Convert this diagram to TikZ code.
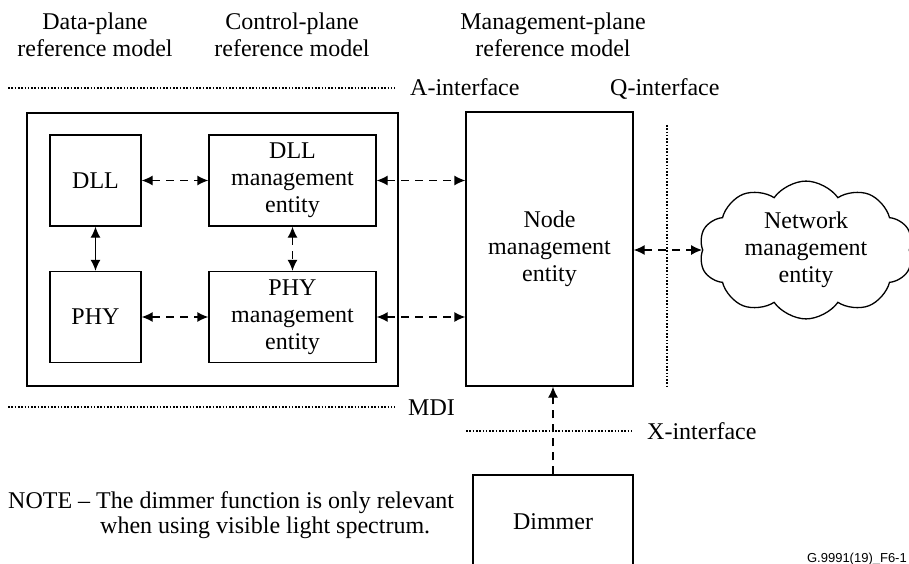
\documentclass[tikz,border=0pt]{standalone}
\usepackage{fontspec}
\setmainfont{Liberation Serif}
\newfontfamily\figidfont{Liberation Sans}
\usepackage{tikz}
\usetikzlibrary{shapes.symbols}
\usetikzlibrary{arrows.meta,calc}
\tikzstyle{blk}=[draw, line width=1.3pt, align=center, inner sep=0pt]
\tikzstyle{dash<>}=[line width=1.3pt, dash pattern=on 8pt off 6pt, {Latex[length=11pt,width=10pt]}-{Latex[length=11pt,width=10pt]}]
\tikzstyle{solid<>}=[line width=1.3pt, {Latex[length=11pt,width=10pt]}-{Latex[length=11pt,width=10pt]}]
\tikzstyle{dash>}=[line width=1.3pt, dash pattern=on 8pt off 6pt, -{Latex[length=11pt,width=10pt]}]
\tikzstyle{iface}=[line width=1.3pt, dash pattern=on 1.6pt off 1.7pt]

\begin{document}
\begin{tikzpicture}[x=1pt, y=-1pt, font=\fontsize{24}{27}\selectfont]
\clip (0,0) rectangle (909,564);
\foreach \n/\x/\t in {dp/95/Data-plane, cp/292/Control-plane, mp/553/Management-plane} {
 \node[align=center] (h\n) at (\x,35) {\t\\reference model};
}
\node[blk, minimum width=371pt, minimum height=273pt] (outer) at (212.5,249.5) {};
\foreach \n/\x/\y/\w/\t in {dll/95.5/180.5/91/{DLL}, phy/95.5/317/91/{PHY},
  dllm/292.5/180.5/167/{DLL\\management\\entity}, phym/292.5/317/167/{PHY\\management\\entity}} {
 \node[blk, minimum width=\w pt, minimum height=91pt] (\n) at (\x,\y) {\t};
}
\node[blk, minimum width=167pt, minimum height=274pt] (nodem) at (549.5,249) {Node\\management\\entity};
\node[blk, minimum width=160pt, minimum height=94pt] (dim) at (553,522) {Dimmer};
\node[cloud, draw, line width=1.3pt, cloud puffs=10, cloud puff arc=110, aspect=1.5,
 minimum width=214pt, minimum height=136pt, align=center, inner sep=0pt] (netm) at (806,250) {Network\\management\\entity};

\draw[dash<>] (dll) -- (dllm);
\draw[dash<>] (phy) -- (phym);
\draw[solid<>] (dll) -- (phy);
\draw[dash<>] (dllm) -- (phym);
\draw[dash<>] (dllm.east) -- (dllm.east -| nodem.west);
\draw[dash<>] (phym.east) -- (phym.east -| nodem.west);
\draw[dash<>] (nodem.east |- netm.west) -- (netm.west);
\draw[dash>] (dim.north) -- (dim.north |- nodem.south);

% interfaces
\foreach \n/\x/\y/\e/\tx/\t in {a/8/88/395/410/A-interface, m/8/407/395/408/MDI, x/466/431/632/647/X-interface} {
 \coordinate (\n0) at (\x,\y);
 \coordinate (\n1) at (\e,\y);
 \node[anchor=base west, inner sep=0pt] (\n if) at (\tx,\y+8) {\t};
 \draw[iface] (\n0) -- (\n1);
}
\node[anchor=base west, inner sep=0pt] (qif) at (610,96) {Q-interface};
\coordinate (q0) at (667,125);
\coordinate (q1) at (667,386);
\draw[iface] (q0) -- (q1);

\node[anchor=west, inner sep=0pt] (note1) at (8,503) {NOTE -- The dimmer function is only relevant};
\node[anchor=west, inner sep=0pt] (note2) at (100,528) {when using visible light spectrum.};
\node[anchor=base east, inner sep=0pt, font=\fontsize{13}{15}\selectfont\figidfont] (figid) at (907,562) {G.9991(19)\_F6-1};
\end{tikzpicture}
\end{document}
